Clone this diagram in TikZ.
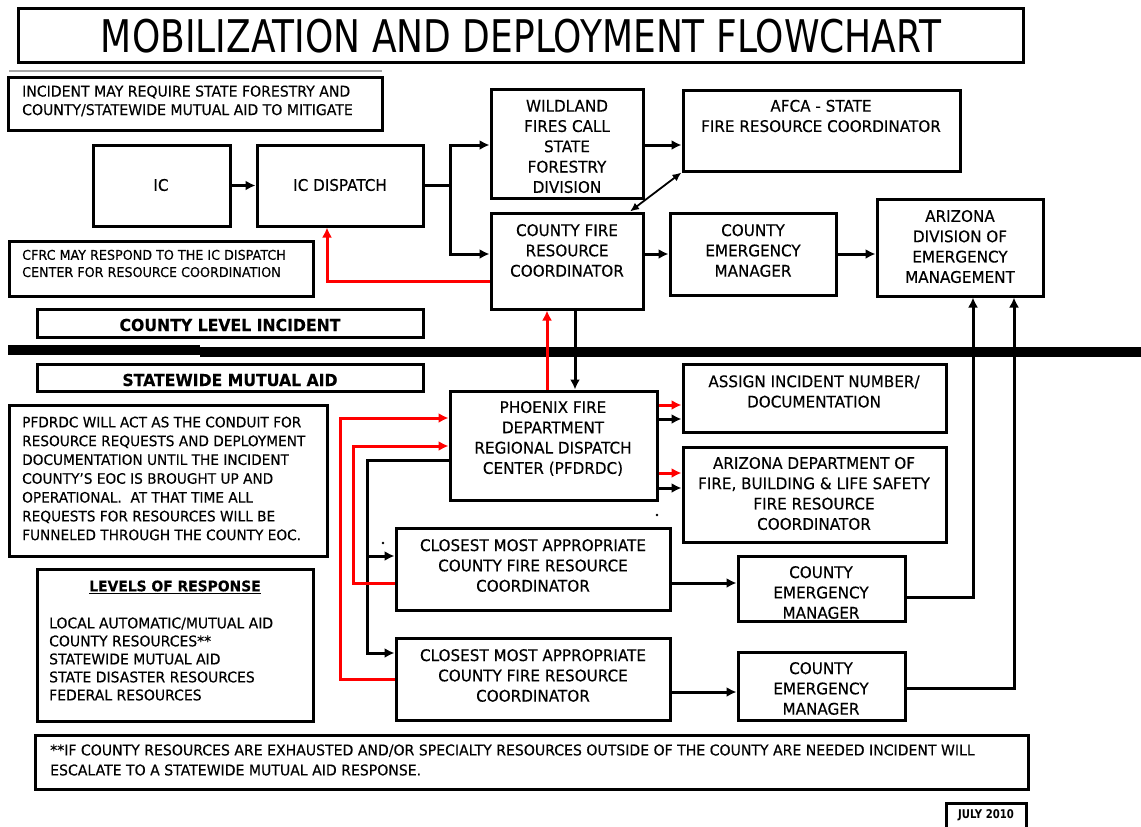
\documentclass[tikz,border=0pt]{standalone}
\usepackage{fontspec}
\setmainfont{DejaVu Sans}[FakeStretch=0.95,FakeBold=0.3]
\newfontfamily\titlefont{DejaVu Sans}[FakeStretch=0.8]
\newfontfamily\footfont{DejaVu Sans}[FakeStretch=0.84]
\usetikzlibrary{arrows.meta,fit,calc}
\newcommand\fsz[2]{\fontsize{#1}{#2}\selectfont}
\tikzset{
  box/.style={draw, line width=3pt, inner sep=0pt, rectangle},
  btxt/.style={inner sep=0pt, align=center, font=\fsz{16}{20.3}},
  ntxt/.style={inner sep=0pt, align=left, anchor=west},
  ln/.style={line width=3pt},
  arr/.style={line width=3pt, -{Latex[length=10pt,width=10pt]}},
  rarr/.style={arr, draw=red},
  dbl/.style={line width=1.8pt, {Latex[length=9pt,width=8pt]}-{Latex[length=9pt,width=8pt]}},
}
\begin{document}
\begin{tikzpicture}[x=1pt,y=-1pt]
\useasboundingbox (0,0) rectangle (1141,827);
\fill[white] (0,0) rectangle (1141,827);

% title
\node[box, fit={(18,8) (1023,62)}] (title) {};
\node[inner sep=0pt, font=\titlefont\fsz{45}{50}] (titlet) at (521,36.5) {MOBILIZATION AND DEPLOYMENT FLOWCHART};
\draw[gray!70, line width=1.2pt] (9,71) -- (382,71);

% notes
\node[box, fit={(8,77) (382,130)}] (inc) {};
\node[ntxt, font=\fsz{14.8}{18.5}] (inct) at (22,101) {INCIDENT MAY REQUIRE STATE FORESTRY AND\\COUNTY/STATEWIDE MUTUAL AID TO MITIGATE};

\node[box, fit={(9,241) (313,296)}] (cfn) {};
\node[ntxt, font=\fsz{13.4}{17.2}] (cfnt) at (22,263.5) {CFRC MAY RESPOND TO THE IC DISPATCH\\CENTER FOR RESOURCE COORDINATION};

\node[box, fit={(37,309) (423,337)}] (cli) {};
\node[inner sep=0pt, font=\bfseries\fsz{16.5}{18}] (clit) at (230,325) {COUNTY LEVEL INCIDENT};
\node[box, fit={(37,364) (423,391)}] (swa) {};
\node[inner sep=0pt, font=\bfseries\fsz{16.5}{18}] (swat) at (230,380) {STATEWIDE MUTUAL AID};

% bar
\fill (8,345) rectangle (200,355);
\fill (200,347) rectangle (1141,357);

\node[box, fit={(9,405) (327,556)}] (pfn) {};
\node[ntxt, font=\fsz{14.4}{18.8}] (pfnt) at (22,478.5) {PFDRDC WILL ACT AS THE CONDUIT FOR\\RESOURCE REQUESTS AND DEPLOYMENT\\DOCUMENTATION UNTIL THE INCIDENT\\COUNTY'S EOC IS BROUGHT UP AND\\OPERATIONAL.\ \ AT THAT TIME ALL\\REQUESTS FOR RESOURCES WILL BE\\FUNNELED THROUGH THE COUNTY EOC.};

\node[box, fit={(37,569) (313,721)}] (lev) {};
\node[inner sep=0pt, font=\bfseries\fsz{14.6}{18}] (levh) at (175,587) {\underline{LEVELS OF RESPONSE}};
\node[ntxt, font=\fsz{14.7}{18}] (levt) at (49,659) {LOCAL AUTOMATIC/MUTUAL AID\\COUNTY RESOURCES**\\STATEWIDE MUTUAL AID\\STATE DISASTER RESOURCES\\FEDERAL RESOURCES};

% main boxes
\node[box, fit={(93,145) (230,226)}] (ic) {};
\node[btxt] (ict) at (161,185) {IC};
\node[box, fit={(257,145) (423,226)}] (icd) {};
\node[btxt] (icdt) at (340,185) {IC DISPATCH};

\node[box, fit={(491,89) (643,198)}] (wild) {};
\node[btxt] (wildt) at (567,146.5) {WILDLAND\\FIRES CALL\\STATE\\FORESTRY\\DIVISION};
\node[box, fit={(683,90) (960,171)}] (afca) {};
\node[btxt] (afcat) at (821,116) {AFCA - STATE\\FIRE RESOURCE COORDINATOR};

\node[box, fit={(491,213) (643,309)}] (cfrc) {};
\node[btxt] (cfrct) at (567,250.5) {COUNTY FIRE\\RESOURCE\\COORDINATOR};
\node[box, fit={(670,213) (836,295)}] (cem1) {};
\node[btxt] (cem1t) at (753,250.5) {COUNTY\\EMERGENCY\\MANAGER};
\node[box, fit={(877,199) (1043,296)}] (adem) {};
\node[btxt] (ademt) at (960,246.5) {ARIZONA\\DIVISION OF\\EMERGENCY\\MANAGEMENT};

\node[box, fit={(450,391) (657,500)}] (pf) {};
\node[btxt] (pft) at (553,438.5) {PHOENIX FIRE\\DEPARTMENT\\REGIONAL DISPATCH\\CENTER (PFDRDC)};
\node[box, fit={(683,364) (946,432)}] (asg) {};
\node[btxt] (asgt) at (814,391.5) {ASSIGN INCIDENT NUMBER/\\DOCUMENTATION};
\node[box, fit={(683,447) (946,542)}] (azd) {};
\node[btxt] (azdt) at (814,493.5) {ARIZONA DEPARTMENT OF\\FIRE, BUILDING \& LIFE SAFETY\\FIRE RESOURCE\\COORDINATOR};

\node[box, fit={(396,528) (670,610)}] (cma1) {};
\node[btxt] (cma1t) at (533,565.5) {CLOSEST MOST APPROPRIATE\\COUNTY FIRE RESOURCE\\COORDINATOR};
\node[box, fit={(396,638) (670,720)}] (cma2) {};
\node[btxt] (cma2t) at (533,675.5) {CLOSEST MOST APPROPRIATE\\COUNTY FIRE RESOURCE\\COORDINATOR};

\begin{scope}
\clip (738,556) rectangle (905,620);
\node[btxt] (cem2t) at (821,592.5) {COUNTY\\EMERGENCY\\MANAGER};
\end{scope}
\node[box, fit={(738,556) (905,621)}] (cem2) {};
\node[box, fit={(738,652) (905,720)}] (cem3) {};
\node[btxt] (cem3t) at (821,688.5) {COUNTY\\EMERGENCY\\MANAGER};

% footnote
\node[box, fit={(35,735) (1028,789)}] (foot) {};
\node[ntxt, font=\fsz{14.8}{20}] (foott) at (50,760) {**IF COUNTY RESOURCES ARE EXHAUSTED AND/OR SPECIALTY RESOURCES OUTSIDE OF THE COUNTY ARE NEEDED INCIDENT WILL\\ESCALATE TO A STATEWIDE MUTUAL AID RESPONSE.};
\node[box, fit={(946,803) (1026,832)}] (july) {};
\node[inner sep=0pt, font=\footfont\bfseries\fsz{12}{13}] (julyt) at (986,815) {JULY 2010};

% connectors
\coordinate (sp) at (450,185.5);
\draw[arr] (ic.east) -- (icd.west);
\draw[ln] (icd.east) -- (sp);
\draw[arr] (sp) |- (wild.west |- 0,145);
\draw[arr] (sp) |- (cfrc.west |- 0,254);
\draw[arr] (wild.east |- 0,145) -- (afca.west |- 0,145);
\draw[dbl] (cfrc.north -| 630,0) -- (afca.south west);
\draw[arr] (cfrc.east |- 0,254) -- (cem1.west |- 0,254);
\draw[arr] (cem1.east |- 0,254) -- (adem.west |- 0,254);
\coordinate (rb) at (327,281);
\draw[rarr] (cfrc.west |- rb) -- (rb) -- (icd.south -| rb);
\draw[rarr] (pf.north -| 547,0) -- (cfrc.south -| 547,0);
\draw[arr] (cfrc.south -| 575,0) -- (pf.north -| 575,0);
\draw[rarr] (pf.east |- 0,405) -- (asg.west |- 0,405);
\draw[arr] (pf.east |- 0,419) -- (asg.west |- 0,419);
\draw[rarr] (pf.east |- 0,473) -- (azd.west |- 0,473);
\draw[arr] (pf.east |- 0,488) -- (azd.west |- 0,488);

\coordinate (bk1) at (367,460);
\coordinate (bk2) at (367,653);
\coordinate (bk3) at (367,556);
\draw[arr] (pf.west |- bk1) -- (bk1) -- (bk2) -- (cma2.west |- bk2);
\draw[arr] (bk3) -- (cma1.west |- bk3);
\coordinate (r1a) at (353,583);
\coordinate (r1b) at (353,446);
\draw[rarr] (cma1.west |- r1a) -- (r1a) -- (r1b) -- (pf.west |- r1b);
\coordinate (r2a) at (340,679);
\coordinate (r2b) at (340,418);
\draw[rarr] (cma2.west |- r2a) -- (r2a) -- (r2b) -- (pf.west |- r2b);

\draw[arr] (cma1.east |- 0,583) -- (cem2.west |- 0,583);
\draw[arr] (cma2.east |- 0,692) -- (cem3.west |- 0,692);
\coordinate (u1) at (973,597);
\coordinate (u2) at (1014,688);
\draw[arr] (cem2.east |- u1) -- (u1) -- (adem.south -| u1);
\draw[arr] (cem3.east |- u2) -- (u2) -- (adem.south -| u2);

% stray dots
\fill (657,515) circle (1.3);
\fill (383,543) circle (1.3);
\end{tikzpicture}
\end{document}
